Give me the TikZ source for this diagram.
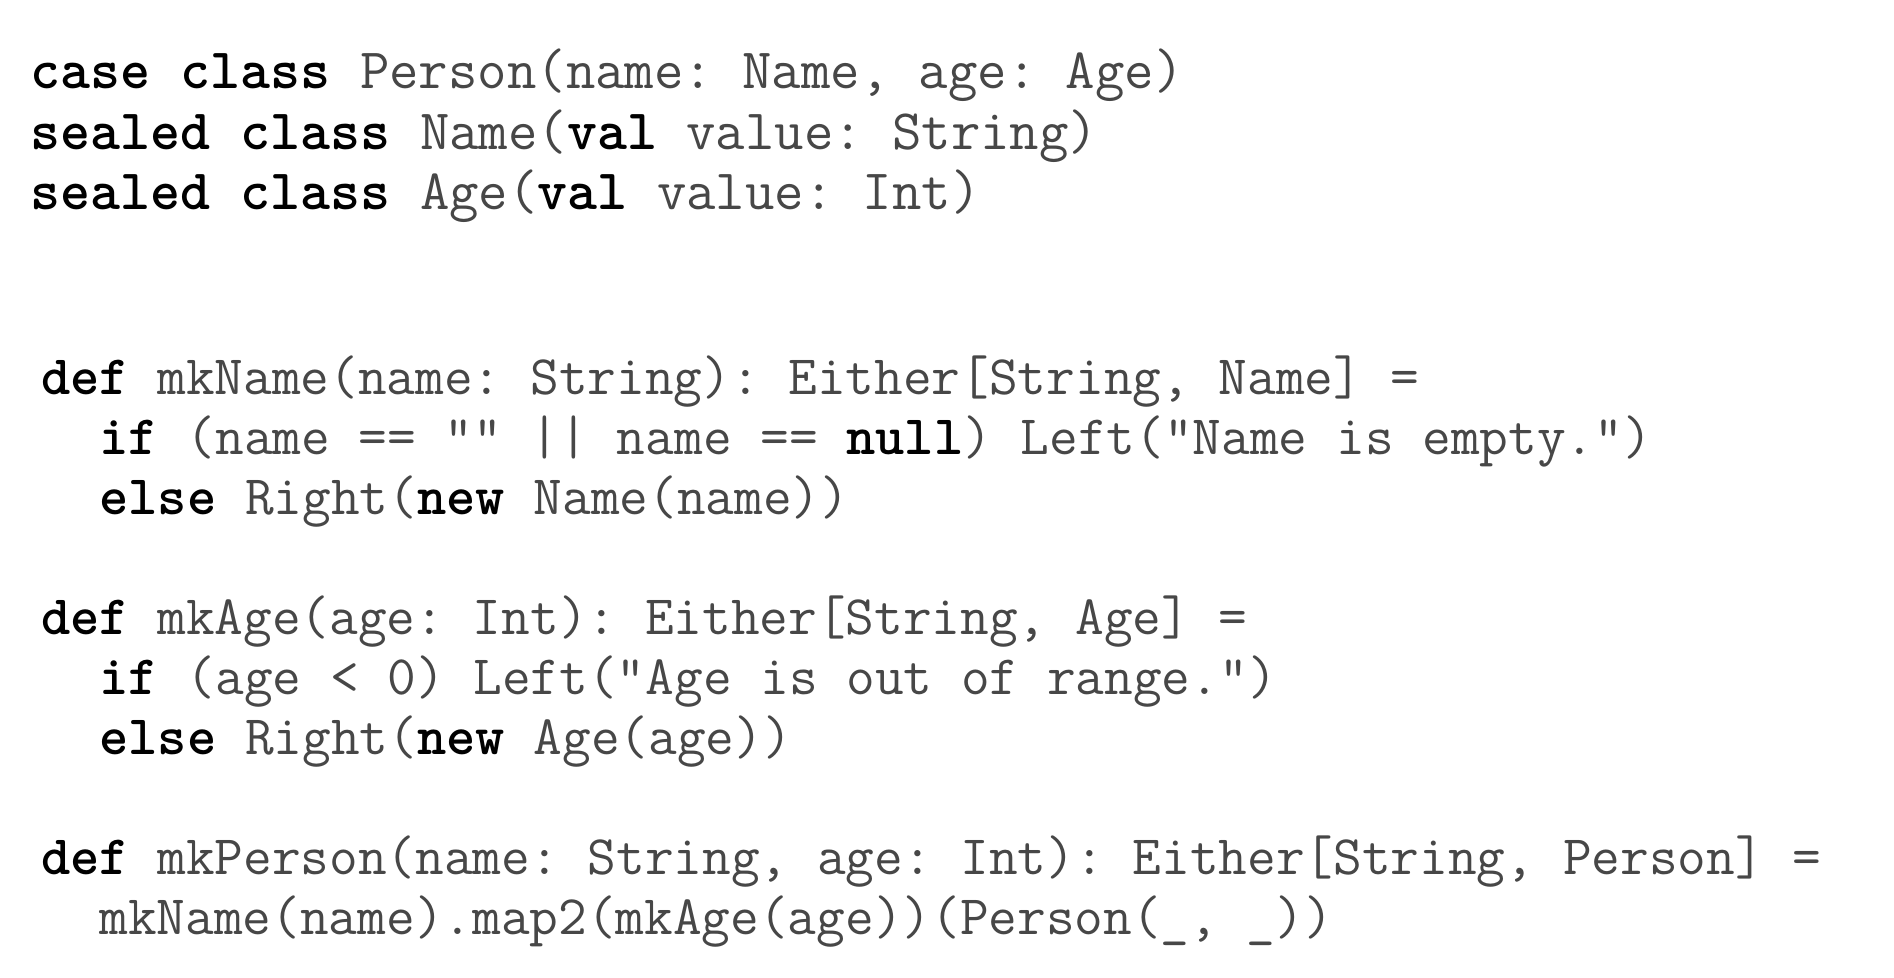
\documentclass[tikz,border=0pt]{standalone}
\definecolor{codegray}{gray}{0.28}
\newcommand{\kw}[1]{{\bfseries\color{black}#1}}
\tikzset{
  codeA/.style={anchor=base west, inner sep=0pt, outer sep=0pt,
    font=\ttfamily\frenchspacing\fontsize{28.55}{34}\selectfont, text=codegray},
  codeB/.style={anchor=base west, inner sep=0pt, outer sep=0pt,
    font=\ttfamily\frenchspacing\fontsize{27.85}{33}\selectfont, text=codegray}
}
\begin{document}
\frenchspacing
\begin{tikzpicture}[x=0.5pt,y=-0.5pt]
\useasboundingbox[fill=white] (0,0) rectangle (1894,978);
% block 1
\node[codeA] (a1) at (31,89)  {\kw{case class} Person(name: Name, age: Age)};
\node[codeA] (a2) at (31,150) {\kw{sealed class} Name(\kw{val} value: String)};
\node[codeA] (a3) at (31,210) {\kw{sealed class} Age(\kw{val} value: Int)};
% block 2
\node[codeB] (b1) at (41,394)   {\kw{def} mkName(name: String): Either[String, Name] =};
\node[codeB] (b2) at (99.5,454) {\kw{if} (name == "" || name == \kw{null}) Left("Name is empty.")};
\node[codeB] (b3) at (99.5,514) {\kw{else} Right(\kw{new} Name(name))};
\node[codeB] (c1) at (41,634)   {\kw{def} mkAge(age: Int): Either[String, Age] =};
\node[codeB] (c2) at (99.5,694) {\kw{if} (age < 0) Left("Age is out of range.")};
\node[codeB] (c3) at (99.5,754) {\kw{else} Right(\kw{new} Age(age))};
\node[codeB] (d1) at (41,874)   {\kw{def} mkPerson(name: String, age: Int): Either[String, Person] =};
\node[codeB] (d2) at (99.5,934) {mkName(name).map2(mkAge(age))(Person(\_, \_))};
\end{tikzpicture}
\end{document}
